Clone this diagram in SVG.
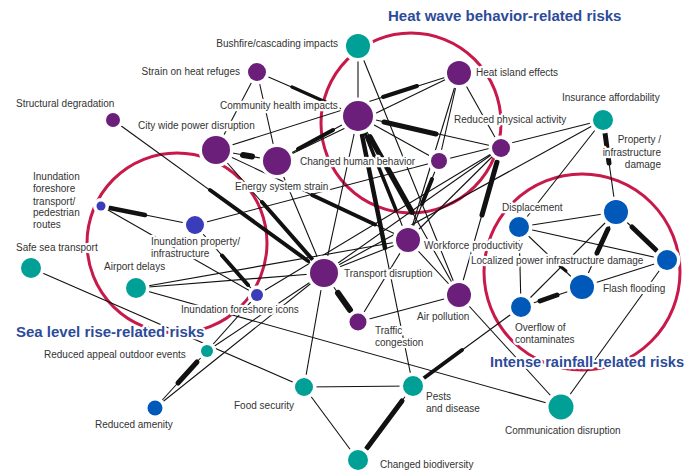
<svg xmlns="http://www.w3.org/2000/svg" width="688" height="470" viewBox="0 0 688 470">
<style>
.e{stroke:#111;stroke-width:1.1;fill:none}
.t{stroke:#111;stroke-linecap:round;fill:none}
.ring{fill:none;stroke:#c8194b;stroke-width:3}
.n{stroke:#fff;stroke-width:7;paint-order:stroke}
.p{fill:#6b1f7a}.g{fill:#00a096}.b{fill:#0059b8}.v{fill:#3b3cb9}
text{font-family:"Liberation Sans",Arial,sans-serif;stroke:#fff;stroke-linejoin:round;paint-order:stroke}
.l{font-size:10px;fill:#333;stroke-width:4.5}
.ttl{font-size:15px;font-weight:bold;fill:#2c4b9a;stroke-width:4.5}
</style>
<rect width="688" height="470" fill="#fff"/>
<g id="clusters">
<circle class="ring" cx="411" cy="123" r="90"/>
<circle class="ring" cx="177" cy="243" r="90"/>
<circle class="ring" cx="582" cy="272" r="98"/>
</g>
<g id="connectors">
<line class="e" x1="358" y1="46" x2="358" y2="116"/>
<line class="e" x1="358" y1="46" x2="459" y2="295"/>
<line class="e" x1="257" y1="72" x2="216" y2="150"/>
<line class="e" x1="257" y1="72" x2="277" y2="161"/>
<line class="e" x1="257" y1="72" x2="358" y2="116"/>
<line class="e" x1="459" y1="73" x2="439" y2="161"/>
<line class="e" x1="459" y1="73" x2="408" y2="240"/>
<line class="e" x1="459" y1="73" x2="501" y2="148"/>
<line class="e" x1="277" y1="161" x2="459" y2="73"/>
<line class="e" x1="216" y1="150" x2="459" y2="73"/>
<line class="e" x1="358" y1="116" x2="501" y2="148"/>
<line class="e" x1="358" y1="116" x2="439" y2="161"/>
<line class="e" x1="358" y1="116" x2="324" y2="273"/>
<line class="e" x1="358" y1="116" x2="459" y2="295"/>
<line class="e" x1="358" y1="116" x2="413" y2="386"/>
<line class="e" x1="358" y1="116" x2="408" y2="240"/>
<line class="e" x1="216" y1="150" x2="277" y2="161"/>
<line class="e" x1="216" y1="150" x2="324" y2="273"/>
<line class="e" x1="113" y1="120" x2="324" y2="273"/>
<line class="e" x1="216" y1="150" x2="408" y2="240"/>
<line class="e" x1="277" y1="161" x2="358" y2="116"/>
<line class="e" x1="277" y1="161" x2="324" y2="273"/>
<line class="e" x1="195" y1="225" x2="439" y2="161"/>
<line class="e" x1="101" y1="206" x2="195" y2="225"/>
<line class="e" x1="101" y1="206" x2="257" y2="295"/>
<line class="e" x1="195" y1="225" x2="257" y2="295"/>
<line class="e" x1="136" y1="288" x2="408" y2="240"/>
<line class="e" x1="136" y1="288" x2="324" y2="273"/>
<line class="e" x1="136" y1="288" x2="561" y2="407"/>
<line class="e" x1="31" y1="268" x2="304" y2="387"/>
<line class="e" x1="207" y1="351" x2="257" y2="295"/>
<line class="e" x1="207" y1="351" x2="324" y2="273"/>
<line class="e" x1="155" y1="408" x2="207" y2="351"/>
<line class="e" x1="155" y1="408" x2="324" y2="273"/>
<line class="e" x1="304" y1="387" x2="413" y2="386"/>
<line class="e" x1="304" y1="387" x2="358" y2="460"/>
<line class="e" x1="304" y1="387" x2="324" y2="273"/>
<line class="e" x1="413" y1="386" x2="358" y2="460"/>
<line class="e" x1="413" y1="386" x2="521" y2="307"/>
<line class="e" x1="459" y1="295" x2="561" y2="407"/>
<line class="e" x1="667" y1="260" x2="561" y2="407"/>
<line class="e" x1="459" y1="295" x2="358" y2="322"/>
<line class="e" x1="358" y1="322" x2="324" y2="273"/>
<line class="e" x1="358" y1="322" x2="408" y2="240"/>
<line class="e" x1="408" y1="240" x2="459" y2="295"/>
<line class="e" x1="408" y1="240" x2="324" y2="273"/>
<line class="e" x1="501" y1="148" x2="459" y2="295"/>
<line class="e" x1="439" y1="161" x2="408" y2="240"/>
<line class="e" x1="603" y1="120" x2="616" y2="212"/>
<line class="e" x1="603" y1="120" x2="519" y2="227"/>
<line class="e" x1="603" y1="120" x2="439" y2="161"/>
<line class="e" x1="603" y1="120" x2="324" y2="273"/>
<line class="e" x1="519" y1="227" x2="616" y2="212"/>
<line class="e" x1="519" y1="227" x2="667" y2="260"/>
<line class="e" x1="519" y1="227" x2="582" y2="287"/>
<line class="e" x1="519" y1="227" x2="521" y2="307"/>
<line class="e" x1="616" y1="212" x2="521" y2="307"/>
<line class="e" x1="616" y1="212" x2="582" y2="287"/>
<line class="e" x1="616" y1="212" x2="667" y2="260"/>
<line class="e" x1="582" y1="287" x2="667" y2="260"/>
<line class="e" x1="521" y1="307" x2="582" y2="287"/>
<line class="e" x1="501" y1="148" x2="257" y2="295"/>
<line class="e" x1="501" y1="148" x2="324" y2="273"/>
<line class="e" x1="408" y1="240" x2="501" y2="148"/>
<line class="t" stroke-width="3.5" x1="292" y1="87" x2="330" y2="104"/>
<line class="t" stroke-width="4" x1="383" y1="97" x2="417" y2="86"/>
<line class="t" stroke-width="5" x1="384" y1="122" x2="436" y2="134"/>
<line class="t" stroke-width="5.5" x1="370" y1="137" x2="412" y2="212"/>
<line class="t" stroke-width="4.5" x1="362" y1="135" x2="385" y2="248"/>
<line class="t" stroke-width="3.5" x1="365" y1="133" x2="396" y2="210"/>
<line class="t" stroke-width="6" x1="243" y1="155" x2="252" y2="156.5"/>
<line class="t" stroke-width="4" x1="262" y1="202" x2="312" y2="259"/>
<line class="t" stroke-width="4" x1="210" y1="190" x2="308" y2="261"/>
<line class="t" stroke-width="4" x1="312" y1="195" x2="375" y2="224.5"/>
<line class="t" stroke-width="4" x1="298" y1="149" x2="333" y2="130"/>
<line class="t" stroke-width="4.5" x1="110" y1="208" x2="145" y2="215"/>
<line class="t" stroke-width="4" x1="222" y1="255.5" x2="248" y2="285"/>
<line class="t" stroke-width="5" x1="178" y1="383" x2="197" y2="362"/>
<line class="t" stroke-width="5" x1="402" y1="401" x2="367" y2="448"/>
<line class="t" stroke-width="4" x1="424" y1="378" x2="462" y2="350"/>
<line class="t" stroke-width="6" x1="350" y1="310" x2="338" y2="293"/>
<line class="t" stroke-width="5" x1="497" y1="162" x2="482" y2="215"/>
<line class="t" stroke-width="4" x1="432" y1="179" x2="422" y2="204"/>
<line class="t" stroke-width="5" x1="605" y1="133" x2="609" y2="163"/>
<line class="t" stroke-width="5" x1="608" y1="229" x2="597" y2="253"/>
<line class="t" stroke-width="5" x1="632" y1="227" x2="656" y2="250"/>
<line class="t" stroke-width="5" x1="540" y1="301" x2="557" y2="295"/>
<line class="t" stroke-width="3" x1="560" y1="266" x2="566" y2="271"/>
</g>
<g id="n-bushfire"><circle class="n g" cx="358" cy="46" r="12"/><text class="l" x="338" y="47" text-anchor="end">Bushfire/cascading impacts</text></g>
<g id="n-strain-heat-refuges"><circle class="n p" cx="257" cy="72" r="9"/><text class="l" x="240" y="75" text-anchor="end">Strain on heat refuges</text></g>
<g id="n-heat-island"><circle class="n p" cx="459" cy="73" r="12"/><text class="l" x="476" y="76">Heat island effects</text></g>
<g id="n-structural"><circle class="n p" cx="113" cy="120" r="7"/><text class="l" x="16" y="107">Structural degradation</text></g>
<g id="n-community-health"><circle class="n p" cx="358" cy="116" r="15"/><text class="l" x="220" y="109">Community health impacts</text></g>
<g id="n-city-power"><circle class="n p" cx="216" cy="150" r="14"/><text class="l" x="138" y="129">City wide power disruption</text></g>
<g id="n-energy-strain"><circle class="n p" cx="277" cy="161" r="14"/><text class="l" x="235" y="190">Energy system strain</text></g>
<g id="n-changed-behavior"><circle class="n p" cx="439" cy="161" r="8"/><text class="l" x="300" y="165">Changed human behavior</text></g>
<g id="n-reduced-activity"><circle class="n p" cx="501" cy="148" r="9"/><text class="l" x="454" y="123">Reduced physical activity</text></g>
<g id="n-insurance"><circle class="n g" cx="603" cy="120" r="10"/><text class="l" x="562" y="101">Insurance affordability</text></g>
<g id="n-property-damage"><circle class="n b" cx="616" cy="212" r="12"/><text class="l" text-anchor="end"><tspan x="661" y="143">Property /</tspan><tspan x="661" y="156">infrastructure</tspan><tspan x="661" y="168">damage</tspan></text></g>
<g id="n-inundation-routes"><circle class="n v" cx="101" cy="206" r="4.5"/><text class="l"><tspan x="33" y="180">Inundation</tspan><tspan x="33" y="192">foreshore</tspan><tspan x="33" y="205">transport/</tspan><tspan x="33" y="216">pedestrian</tspan><tspan x="33" y="228">routes</tspan></text></g>
<g id="n-inundation-property"><circle class="n v" cx="195" cy="225" r="9"/><text class="l"><tspan x="151" y="245">Inundation property/</tspan><tspan x="151" y="257">infrastructure</tspan></text></g>
<g id="n-safe-sea"><circle class="n g" cx="31" cy="268" r="10"/><text class="l" x="16" y="251">Safe sea transport</text></g>
<g id="n-airport"><circle class="n g" cx="136" cy="288" r="10"/><text class="l" x="104" y="270">Airport delays</text></g>
<g id="n-foreshore-icons"><circle class="n v" cx="257" cy="295" r="6"/><text class="l" x="181" y="313">Inundation foreshore icons</text></g>
<g id="n-workforce"><circle class="n p" cx="408" cy="240" r="12"/><text class="l" x="424" y="249">Workforce productivity</text></g>
<g id="n-transport"><circle class="n p" cx="324" cy="273" r="14"/><text class="l" x="344" y="277">Transport disruption</text></g>
<g id="n-air-pollution"><circle class="n p" cx="459" cy="295" r="12"/><text class="l" x="417" y="320">Air pollution</text></g>
<g id="n-traffic"><circle class="n p" cx="358" cy="322" r="8.5"/><text class="l"><tspan x="375" y="334">Traffic</tspan><tspan x="375" y="346">congestion</tspan></text></g>
<g id="n-displacement"><circle class="n b" cx="519" cy="227" r="10"/><text class="l" x="502" y="211">Displacement</text></g>
<g id="n-localized-power"><circle class="n b" cx="667" cy="260" r="10"/><text class="l" x="471" y="264">Localized power infrastructure damage</text></g>
<g id="n-flash-flooding"><circle class="n b" cx="582" cy="287" r="12"/><text class="l" x="603" y="292">Flash flooding</text></g>
<g id="n-overflow"><circle class="n b" cx="521" cy="307" r="10"/><text class="l"><tspan x="515" y="331">Overflow of</tspan><tspan x="515" y="343">contaminates</tspan></text></g>
<g id="n-communication"><circle class="n g" cx="561" cy="407" r="12.5"/><text class="l" x="505" y="434">Communication disruption</text></g>
<g id="n-pests"><circle class="n g" cx="413" cy="386" r="10"/><text class="l"><tspan x="426" y="400">Pests</tspan><tspan x="426" y="412">and disease</tspan></text></g>
<g id="n-biodiversity"><circle class="n g" cx="358" cy="460" r="10"/><text class="l" x="380" y="468">Changed biodiversity</text></g>
<g id="n-food"><circle class="n g" cx="304" cy="387" r="9"/><text class="l" x="234" y="409">Food security</text></g>
<g id="n-outdoor-events"><circle class="n g" cx="207" cy="351" r="6"/><text class="l" x="44" y="358">Reduced appeal outdoor events</text></g>
<g id="n-amenity"><circle class="n b" cx="155" cy="408" r="7.5"/><text class="l" x="95" y="428">Reduced amenity</text></g>
<g id="titles">
<text class="ttl" x="388" y="21">Heat wave behavior-related risks</text>
<text class="ttl" x="16" y="337">Sea level rise-related risks</text>
<text class="ttl" x="490" y="367" textLength="194" lengthAdjust="spacingAndGlyphs">Intense rainfall-related risks</text>
</g>
</svg>
